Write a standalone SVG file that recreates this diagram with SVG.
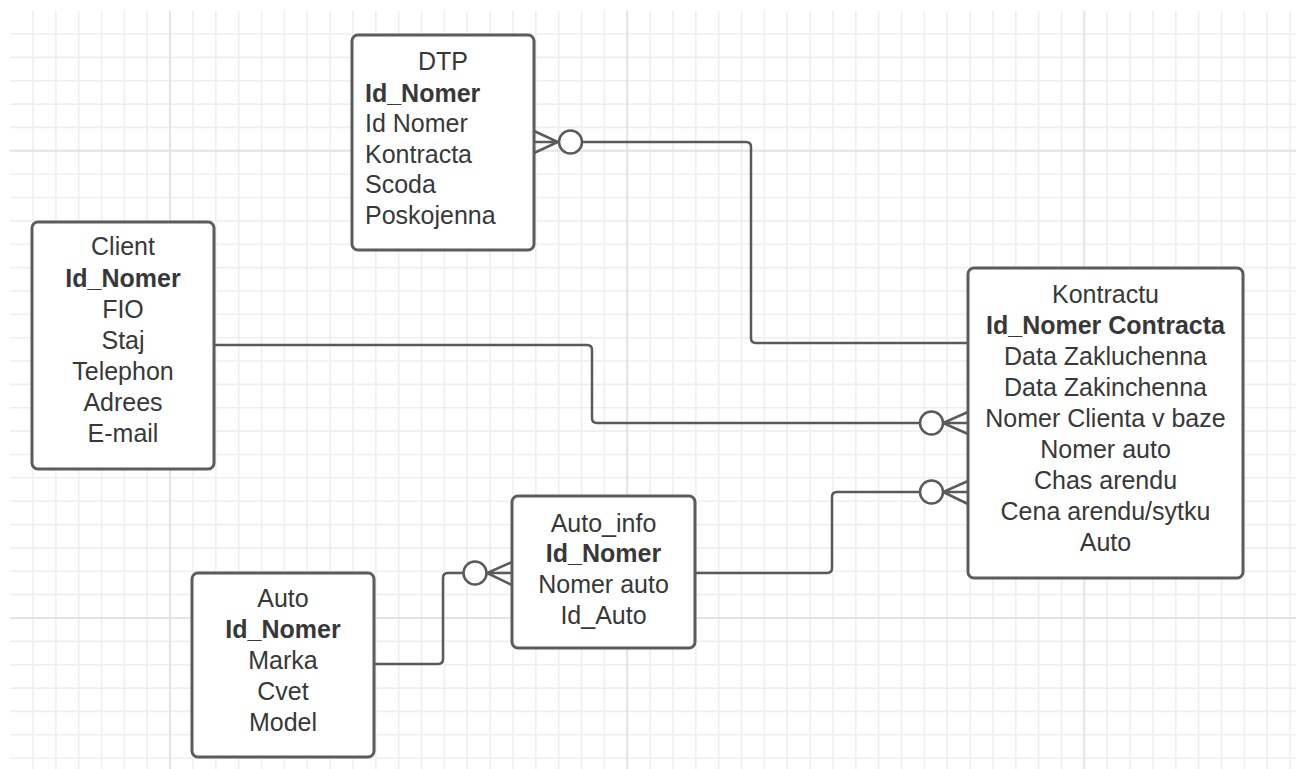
<svg xmlns="http://www.w3.org/2000/svg" width="1301" height="769" viewBox="0 0 1301 769">
<style>
.minor{stroke:#efefef;stroke-width:1.6;fill:none}
.major{stroke:#e3e3e3;stroke-width:2;fill:none}
.box{fill:#ffffff;stroke:#5c5c5c;stroke-width:3}
.t{font-family:"Liberation Sans",Arial,sans-serif;font-size:25px;fill:#383838}
.b{font-weight:bold}
.c{text-anchor:middle}
.conn{fill:none;stroke:#5a5a5a;stroke-width:2.5}
.circ{fill:#ffffff;stroke:#5a5a5a;stroke-width:2.5}
</style>
<rect x="0" y="0" width="1301" height="769" fill="#ffffff"/>
<g id="grid">
<path class="minor" d="M33,11V769M55.9,11V769M78.7,11V769M101.6,11V769M124.4,11V769M147.3,11V769M193,11V769M215.8,11V769M238.7,11V769M261.6,11V769M284.4,11V769M307.3,11V769M330.1,11V769M353,11V769M375.8,11V769M398.7,11V769M421.5,11V769M444.4,11V769M467.2,11V769M490.1,11V769M513,11V769M535.8,11V769M558.7,11V769M581.5,11V769M604.4,11V769M650.1,11V769M672.9,11V769M695.8,11V769M718.7,11V769M741.5,11V769M764.4,11V769M787.2,11V769M810.1,11V769M832.9,11V769M855.8,11V769M878.6,11V769M901.5,11V769M924.3,11V769M947.2,11V769M970.1,11V769M992.9,11V769M1015.8,11V769M1038.6,11V769M1061.5,11V769M1107.2,11V769M1130,11V769M1152.9,11V769M1175.8,11V769M1198.6,11V769M1221.5,11V769M1244.3,11V769M1267.2,11V769M1290,11V769"/>
<path class="minor" d="M10,34H1296M10,57.4H1296M10,80.7H1296M10,104.1H1296M10,127.4H1296M10,174.2H1296M10,197.5H1296M10,220.9H1296M10,244.2H1296M10,267.6H1296M10,291H1296M10,314.3H1296M10,337.7H1296M10,361H1296M10,384.4H1296M10,407.8H1296M10,431.1H1296M10,454.5H1296M10,477.8H1296M10,501.2H1296M10,524.6H1296M10,547.9H1296M10,571.3H1296M10,594.6H1296M10,641.4H1296M10,664.7H1296M10,688.1H1296M10,711.4H1296M10,734.8H1296M10,758.2H1296"/>
<path class="major" d="M170.1,11V769M627.2,11V769M1084.3,11V769M10,150.8H1296M10,618H1296"/>
</g>
<g id="connectors">
<path class="conn" d="M582,142H746Q751,142 751,147V338Q751,343 756,343H968"/>
<path class="conn" d="M534,131L558,142L534,153M534,142H558"/>
<circle class="circ" cx="570.5" cy="142" r="11.5"/>
<path class="conn" d="M214,345H587Q592,345 592,350V418Q592,423 597,423H920"/>
<path class="conn" d="M968,412L943,423L968,434M943,423H968"/>
<circle class="circ" cx="931.5" cy="423" r="11.5"/>
<path class="conn" d="M695,573H827Q832,573 832,568V497Q832,492 837,492H920"/>
<path class="conn" d="M968,481L943,492L968,504M943,492H968"/>
<circle class="circ" cx="931.5" cy="492" r="11.5"/>
<path class="conn" d="M374,664H438Q443,664 443,659V578Q443,573 448,573H463"/>
<path class="conn" d="M512,562L487,573L512,585M487,573H512"/>
<circle class="circ" cx="475" cy="573" r="11.5"/>
</g>
<g id="dtp">
<rect class="box" x="352" y="35" width="182" height="215" rx="6"/>
<text class="t c" x="443" y="70">DTP</text>
<text class="t b" x="365" y="102">Id_Nomer</text>
<text class="t" x="365" y="132">Id Nomer</text>
<text class="t" x="365" y="163">Kontracta</text>
<text class="t" x="365" y="193">Scoda</text>
<text class="t" x="365" y="224">Poskojenna</text>
</g>
<g id="client">
<rect class="box" x="32" y="222" width="182" height="247" rx="6"/>
<text class="t c" x="123" y="255">Client</text>
<text class="t c b" x="123" y="287">Id_Nomer</text>
<text class="t c" x="123" y="318">FIO</text>
<text class="t c" x="123" y="349">Staj</text>
<text class="t c" x="123" y="380">Telephon</text>
<text class="t c" x="123" y="411">Adrees</text>
<text class="t c" x="123" y="442">E-mail</text>
</g>
<g id="kontractu">
<rect class="box" x="968" y="268" width="275" height="310" rx="6"/>
<text class="t c" x="1105.5" y="303">Kontractu</text>
<text class="t c b" x="1105.5" y="334">Id_Nomer Contracta</text>
<text class="t c" x="1105.5" y="365">Data Zakluchenna</text>
<text class="t c" x="1105.5" y="396">Data Zakinchenna</text>
<text class="t c" x="1105.5" y="427">Nomer Clienta v baze</text>
<text class="t c" x="1105.5" y="458">Nomer auto</text>
<text class="t c" x="1105.5" y="489">Chas arendu</text>
<text class="t c" x="1105.5" y="520">Cena arendu/sytku</text>
<text class="t c" x="1105.5" y="551">Auto</text>
</g>
<g id="auto_info">
<rect class="box" x="512" y="496" width="183" height="152" rx="6"/>
<text class="t c" x="603.5" y="532">Auto_info</text>
<text class="t c b" x="603.5" y="562">Id_Nomer</text>
<text class="t c" x="603.5" y="593">Nomer auto</text>
<text class="t c" x="603.5" y="624">Id_Auto</text>
</g>
<g id="auto">
<rect class="box" x="192" y="573" width="182" height="184" rx="6"/>
<text class="t c" x="283" y="607">Auto</text>
<text class="t c b" x="283" y="638">Id_Nomer</text>
<text class="t c" x="283" y="669">Marka</text>
<text class="t c" x="283" y="700">Cvet</text>
<text class="t c" x="283" y="731">Model</text>
</g>
</svg>
